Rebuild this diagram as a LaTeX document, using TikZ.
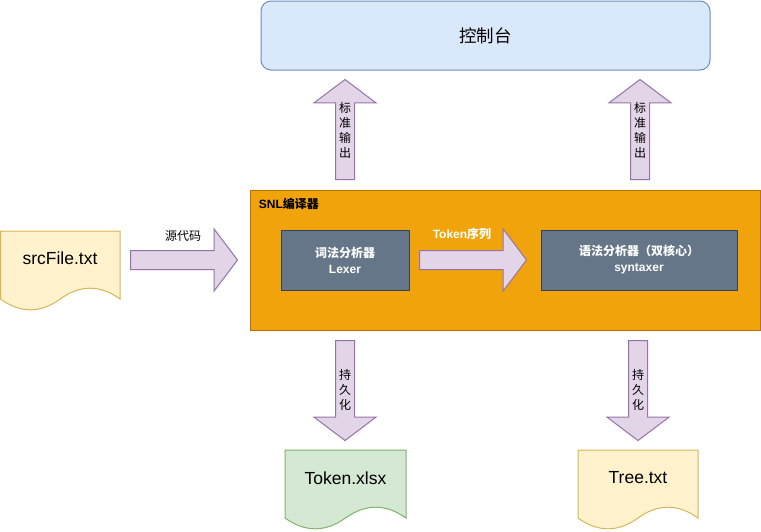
\documentclass[tikz,border=0pt]{standalone}
\usepackage{fontspec}
\setmainfont{Liberation Sans}
\newfontfamily\cjk{Noto Sans CJK SC}
\usetikzlibrary{shapes.arrows}

\definecolor{consolefill}{HTML}{DAE8FC}
\definecolor{consoleline}{HTML}{6C8EBF}
\definecolor{snlfill}{HTML}{F0A30A}
\definecolor{snlline}{HTML}{BD7000}
\definecolor{partfill}{HTML}{647687}
\definecolor{partline}{HTML}{314354}
\definecolor{arrowfill}{HTML}{E1D5E7}
\definecolor{arrowline}{HTML}{9673A6}
\definecolor{yellowfill}{HTML}{FFF2CC}
\definecolor{yellowline}{HTML}{D6B656}
\definecolor{greenfill}{HTML}{D5E8D4}
\definecolor{greenline}{HTML}{82B366}

\tikzstyle{part} = [rectangle, draw=partline, fill=partfill, text=white, font=\fontsize{12}{16}\selectfont\bfseries, align=center, minimum height=60pt, inner sep=0pt]
\tikzstyle{bigarrow} = [single arrow, draw=arrowline, fill=arrowfill, inner xsep=0pt, inner ysep=9pt, single arrow head extend=21.5pt, single arrow tip angle=106, minimum height=100pt, anchor=tail]
\tikzstyle{filename} = [font=\fontsize{17.5}{20}\selectfont]
\tikzstyle{vlabel} = [font=\fontsize{12}{15}\selectfont\cjk, align=center]

% document shape: fill, line, x, y, width, height
\newcommand{\docshape}[6]{%
  \draw[fill=#1, draw=#2] (#3,#4) -- ({#3+#5},#4) -- ({#3+#5},{#4+0.85*#6})
    .. controls ({#3+5*#5/6},{#4+0.67*#6}) and ({#3+2*#5/3},{#4+0.67*#6}) .. ({#3+#5/2},{#4+0.85*#6})
    .. controls ({#3+#5/3},{#4+1.03*#6}) and ({#3+#5/6},{#4+1.03*#6}) .. (#3,{#4+0.85*#6}) -- cycle;}

\begin{document}
\begin{tikzpicture}[x=1pt, y=-1pt, line width=1pt]
        \useasboundingbox (0,0) rectangle (761,531);

        %console
        \node at (485.5,35.5) [rectangle, rounded corners=10pt, draw=consoleline, fill=consolefill, minimum width=449pt, minimum height=69pt, font=\fontsize{17.5}{20}\selectfont\cjk] (console) {控制台};

        %compiler
        \node at (505,260) [rectangle, draw=snlline, fill=snlfill, minimum width=510pt, minimum height=140pt] (snl) {};
        \node at (255,204) [anchor=west, font=\fontsize{12}{14}\selectfont\bfseries] (snllabel) {SNL{\cjk 编译器}};
        \node at (345,260) [part, minimum width=128pt] (lexer) {{\cjk 词法分析器}\\Lexer};
        \node at (639,260) [part, minimum width=196pt] (syntaxer) {{\cjk 语法分析器（双核心）}\\syntaxer};

        %input file
        \docshape{yellowfill}{yellowline}{0.5}{231}{119.5}{80}
        \node at (60,258) [filename] (src) {srcFile.txt};

        %output files
        \docshape{greenfill}{greenline}{285}{450}{121}{80}
        \node at (345.5,478) [filename] (token) {Token.xlsx};
        \docshape{yellowfill}{yellowline}{578}{450}{120}{80}
        \node at (638,478) [filename] (tree) {Tree.txt};

        %big arrows
        \node at (130,260) [bigarrow, minimum height=107pt] (srcarrow) {};
        \node at (183,236) [vlabel] (srclabel) {源代码};
        \node at (419,260) [bigarrow, minimum height=107pt] (tokenarrow) {};
        \node at (462,234) [font=\fontsize{12}{14}\selectfont\bfseries, text=white] (tokenlabel) {Token{\cjk 序列}};

        \node at (345,180) [bigarrow, rotate=90] (lexerout) {};
        \node at (345,130) [vlabel] (lexeroutlabel) {标\\准\\输\\出};
        \node at (640,180) [bigarrow, rotate=90] (syntaxerout) {};
        \node at (640,130) [vlabel] (syntaxeroutlabel) {标\\准\\输\\出};

        \node at (345,340) [bigarrow, rotate=-90] (lexersave) {};
        \node at (345,390) [vlabel] (lexersavelabel) {持\\久\\化};
        \node at (638,340) [bigarrow, rotate=-90] (syntaxersave) {};
        \node at (638,390) [vlabel] (syntaxersavelabel) {持\\久\\化};

    \end{tikzpicture}
\end{document}
